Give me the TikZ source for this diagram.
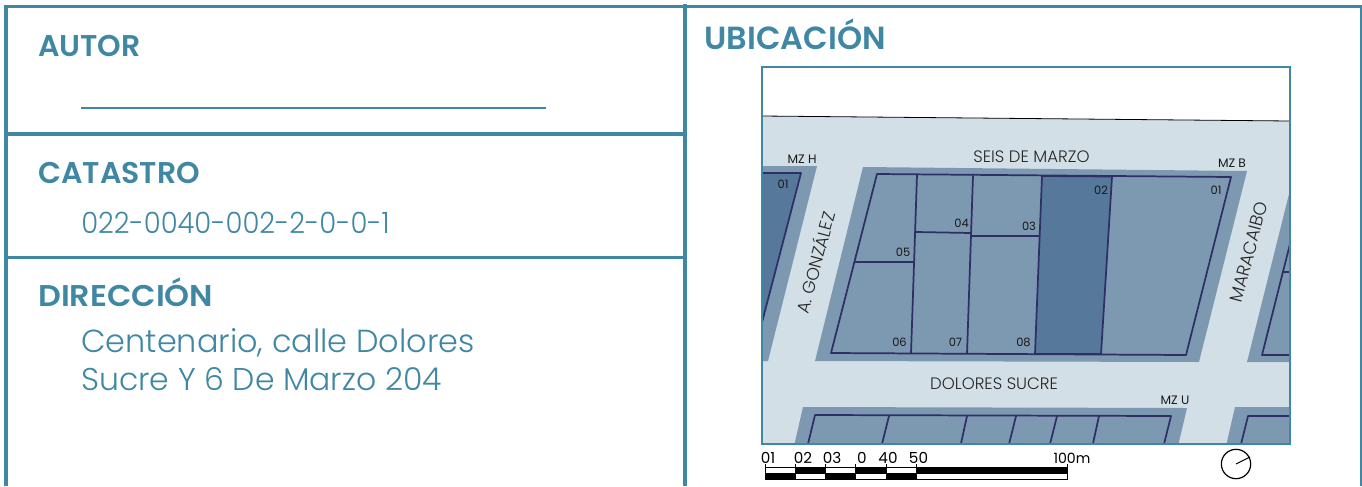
\documentclass[tikz,border=0pt]{standalone}
\usepackage{graphicx}
\usepackage{fontspec}
\setmainfont{Poppins}
\newfontfamily\headf{Poppins}[UprightFont=* SemiBold]
\newfontfamily\lightf{Poppins}[UprightFont=* Light]
\definecolor{teal}{HTML}{3F87A3}
\definecolor{street}{HTML}{D2DFE6}
\definecolor{block}{HTML}{7D99B1}
\definecolor{lotdark}{HTML}{55789B}
\definecolor{lotline}{HTML}{2F2F66}
\tikzset{
  panel/.style={draw=teal,line width=2.6pt},
  head/.style={anchor=base west,inner sep=0,text=teal,font=\headf\fontsize{22.5}{26}\selectfont},
  body/.style={anchor=base west,inner sep=0,text=teal,font=\lightf\fontsize{22}{26}\selectfont},
  lot/.style={draw=lotline,line width=1.3pt,line join=round},
  maplab/.style={inner sep=0,text=black!85,font=\lightf\fontsize{12.4}{14}\selectfont},
  small/.style={inner sep=0,text=black!90,font=\fontsize{8.6}{10}\selectfont},
  mzlab/.style={inner sep=0,text=black!90,font=\fontsize{9.2}{11}\selectfont},
  scalelab/.style={inner sep=0,text=black,font=\fontsize{11.4}{13}\selectfont},
  bar/.style={draw=black,line width=.5pt}
}
\begin{document}
\begin{tikzpicture}[x=0.75pt,y=-0.75pt]
\useasboundingbox (0,0) rectangle (1362,486);
% panels
\draw[panel] (1362,6.5) -- (6,6.5) -- (6,486);
\draw[panel] (6,134) -- (685,134);
\draw[panel] (6,257.5) -- (685,257.5);
\draw[panel] (685,4) -- (685,486);
\draw[teal,line width=1pt] (1361,6.5) -- (1361,486);
\draw[teal,line width=1pt] (81,108) -- (546,108);
% texts
\node[head] (autor) at (38,56) {AUTOR};
\node[head] (catastro) at (38,183) {CATASTRO};
\node[head] (direccion) at (38,306) {\scalebox{1.06}[1]{DIRECCIÓN}};
\node[head,font=\headf\fontsize{24}{28}\selectfont] (ubicacion) at (704,49) {UBICACIÓN};
\node[body] (cat) at (81,233) {\scalebox{0.936}[1]{022-0040-002-2-0-0-1}};
\node[body,font=\lightf\fontsize{23.9}{28}\selectfont] (dir1) at (81,352) {Centenario, calle Dolores};
\node[body,font=\lightf\fontsize{23.6}{28}\selectfont] (dir2) at (81,390) {Sucre Y 6 De Marzo 204};
% map
\begin{scope}
\clip (762,67) rectangle (1290,444);
\fill[street] (762,116) -- (1290,121) -- (1290,444) -- (762,444) -- cycle;
\draw[black,line width=.6pt] (762,116) -- (1290,121);
% blocks
\fill[block] (762,166) -- (817,166) -- (768,361) -- (762,361) -- cycle;
\fill[block] (863,167) -- (1247,171) -- (1199,362) -- (815,361) -- cycle;
\fill[block] (1290,190) -- (1247,362) -- (1290,362) -- cycle;
\fill[block] (803,407) -- (1187,408) -- (1178,446) -- (794,446) -- cycle;
\fill[block] (1235,407) -- (1292,407) -- (1292,446) -- (1226,446) -- cycle;
% lots
\filldraw[lot,fill=lotdark] (760,173) -- (801,173) -- (760,330) -- cycle;
\filldraw[lot,fill=lotdark] (1042,176) -- (1112,176.5) -- (1101,354) -- (1035,354) -- cycle;
\draw[lot] (877,174) -- (1231,177) -- (1186,355) -- (831,353) -- cycle;
\draw[lot] (917,175) -- (911,353.5);
\draw[lot] (973,175.5) -- (967,354);
\draw[lot] (855,262) -- (914,262);
\draw[lot] (916,232) -- (971,233);
\draw[lot] (971,236) -- (1040,236);
% right lots
\draw[lot] (1292,236) -- (1262,355) -- (1292,355);
\draw[lot] (1283,272) -- (1292,272);
% bottom lots
\draw[lot] (807,448) -- (815,415) -- (1171,416) -- (1163,448);
\draw[lot] (889,416) -- (881,448);
\draw[lot] (967,416) -- (960,448);
\draw[lot] (1016,416) -- (1008,448);
\draw[lot] (1057,416) -- (1049,448);
\draw[lot] (1099,416) -- (1092,448);
\draw[lot] (1292,416) -- (1248,416) -- (1240,448);
\end{scope}
\draw[teal,line width=1.7pt] (762,67) rectangle (1290,444);
% map labels
\node[mzlab] (mzh) at (802,159) {MZ H};
\node[maplab] (seis) at (1031.5,156.5) {SEIS DE MARZO};
\node[mzlab] (mzb) at (1232,163) {MZ B};
\node[maplab,font=\lightf\fontsize{13}{15}\selectfont,rotate=75] (gonz) at (814.5,262) {A. GONZÁLEZ};
\node[maplab,font=\lightf\fontsize{13.4}{15}\selectfont,rotate=75] (mara) at (1249,252) {MARACAIBO};
\node[maplab] (dolores) at (994,384) {DOLORES SUCRE};
\node[mzlab] (mzu) at (1175,400) {MZ U};
\foreach \n/\t/\x/\y in {a/01/783/184,b/05/903/252,c/04/961.5/223,d/03/1029/226,e/02/1101/190,f/01/1216/190,g/06/899.5/342,h/07/955.5/342,i/08/1023.5/342}
  \node[small] (num\n) at (\x,\y) {\t};
% scale bar
\foreach \xa/\xb/\ca/\cb in {765/795/white/black,795/825/black/white,825/855/white/black,855/886/black/white,886/916/white/black,916/1067/black/white}{
  \filldraw[bar,fill=\ca] (\xa,467) rectangle (\xb,473);
  \filldraw[bar,fill=\cb] (\xa,473) rectangle (\xb,479);
}
\foreach \x in {765,795,825,855,886,916,1067}
  \draw[bar] (\x,464) -- (\x,467);
\foreach \n/\t/\x in {a/01/768,b/02/803,c/03/832,d/0/862,e/40/888,f/50/918.5}
  \node[scalelab] (sc\n) at (\x,458) {\t};
\node[scalelab,font=\fontsize{10.6}{12}\selectfont] (scg) at (1072,458) {100m};
% compass
\node[circle,draw=black,line width=.9pt,minimum size=22pt,inner sep=0] (north) at (1236,464) {};
\coordinate (tip) at (1250,457);
\draw[black,line width=.8pt] (north.center) -- (tip);
\end{tikzpicture}
\end{document}
